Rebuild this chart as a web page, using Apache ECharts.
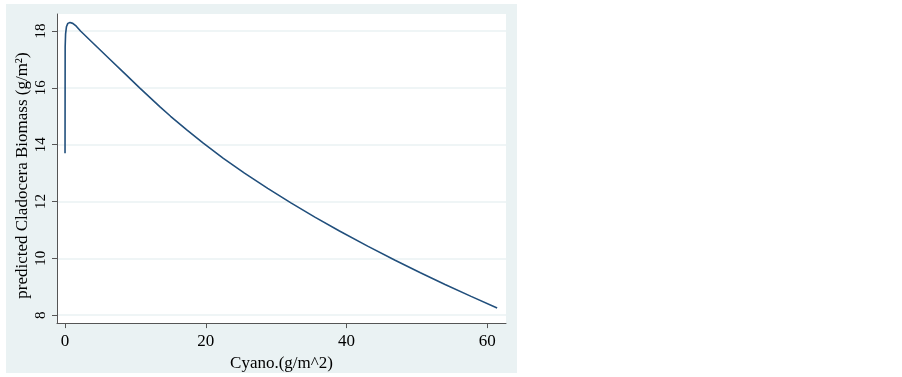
<!DOCTYPE html>
<html>
<head>
<meta charset="utf-8">
<script src="https://cdn.jsdelivr.net/npm/echarts@6/dist/echarts.min.js"></script>
<style>
  html, body { margin: 0; padding: 0; background: #fff; }
  #chart { width: 902px; height: 377px; }
</style>
</head>
<body>
<div id="chart"></div>
<script>
// predicted biomass vs cyano
const cyano = [0, 0.02, 0.08, 0.2, 0.4, 0.7, 1.1, 1.6, 2.2, 4, 6.4, 8.5, 10.6, 13.5, 15, 17.3, 19.6,
  22.5, 25.5, 28.8, 32.1, 35.5, 39, 43, 46.9, 50.5, 54, 57.7, 61.4];
const biomass = [13.7, 17.45, 17.9, 18.15, 18.27, 18.3, 18.27, 18.17, 18.0, 17.57, 17.0, 16.5, 16.0,
  15.33, 15.0, 14.52, 14.06, 13.52, 13.0, 12.46, 11.95, 11.45, 10.96, 10.43, 9.93, 9.49, 9.08, 8.66, 8.25];
const xTicks = [0, 20, 40, 60];
const yTicks = [8, 10, 12, 14, 16, 18];

const font = "'Liberation Serif', 'Times New Roman', serif";
const axisColor = '#555';

const chart = echarts.init(document.getElementById('chart'));
chart.setOption({
  backgroundColor: '#fff',
  animation: false,
  graphic: [
    {
      type: 'rect',
      z: -1,
      silent: true,
      shape: { x: 6, y: 4, width: 511, height: 369 },
      style: { fill: '#eaf2f3' },
    },
  ],
  grid: {
    left: 57,
    right: 396,
    top: 14,
    bottom: 53,
    show: true,
    backgroundColor: '#fff',
    borderWidth: 0,
  },
  xAxis: {
    type: 'value',
    min: -1.14,
    max: 62.66,
    name: 'Cyano.(g/m^2)',
    nameLocation: 'middle',
    nameGap: 29,
    nameTextStyle: { fontFamily: font, fontSize: 17, color: '#000' },
    axisLine: { show: true, onZero: false, lineStyle: { color: axisColor, width: 1 } },
    axisTick: { show: true, length: 5, customValues: xTicks, lineStyle: { color: axisColor } },
    axisLabel: { customValues: xTicks, margin: 10, fontFamily: font, fontSize: 17, color: '#000' },
    splitLine: { show: false },
  },
  yAxis: {
    type: 'value',
    min: 7.72,
    max: 18.6,
    name: 'predicted Cladocera Biomass (g/m²)',
    nameLocation: 'middle',
    nameGap: 26,
    nameRotate: 90,
    nameTextStyle: { fontFamily: font, fontSize: 17, color: '#000', padding: [0, 14, 0, 0] },
    axisLine: { show: true, onZero: false, lineStyle: { color: axisColor, width: 1 } },
    axisTick: { show: true, length: 5, customValues: yTicks, lineStyle: { color: axisColor } },
    axisLabel: { customValues: yTicks, rotate: 90, margin: 8, fontFamily: font, fontSize: 15, color: '#000' },
    splitLine: { show: true, lineStyle: { color: '#eaf2f3', width: 1.5 } },
  },
  series: [
    {
      type: 'line',
      data: cyano.map((x, i) => [x, biomass[i]]),
      showSymbol: false,
      lineStyle: { color: '#214f7c', width: 1.6 },
      itemStyle: { color: '#214f7c' },
    },
  ],
});
</script>
</body>
</html>
